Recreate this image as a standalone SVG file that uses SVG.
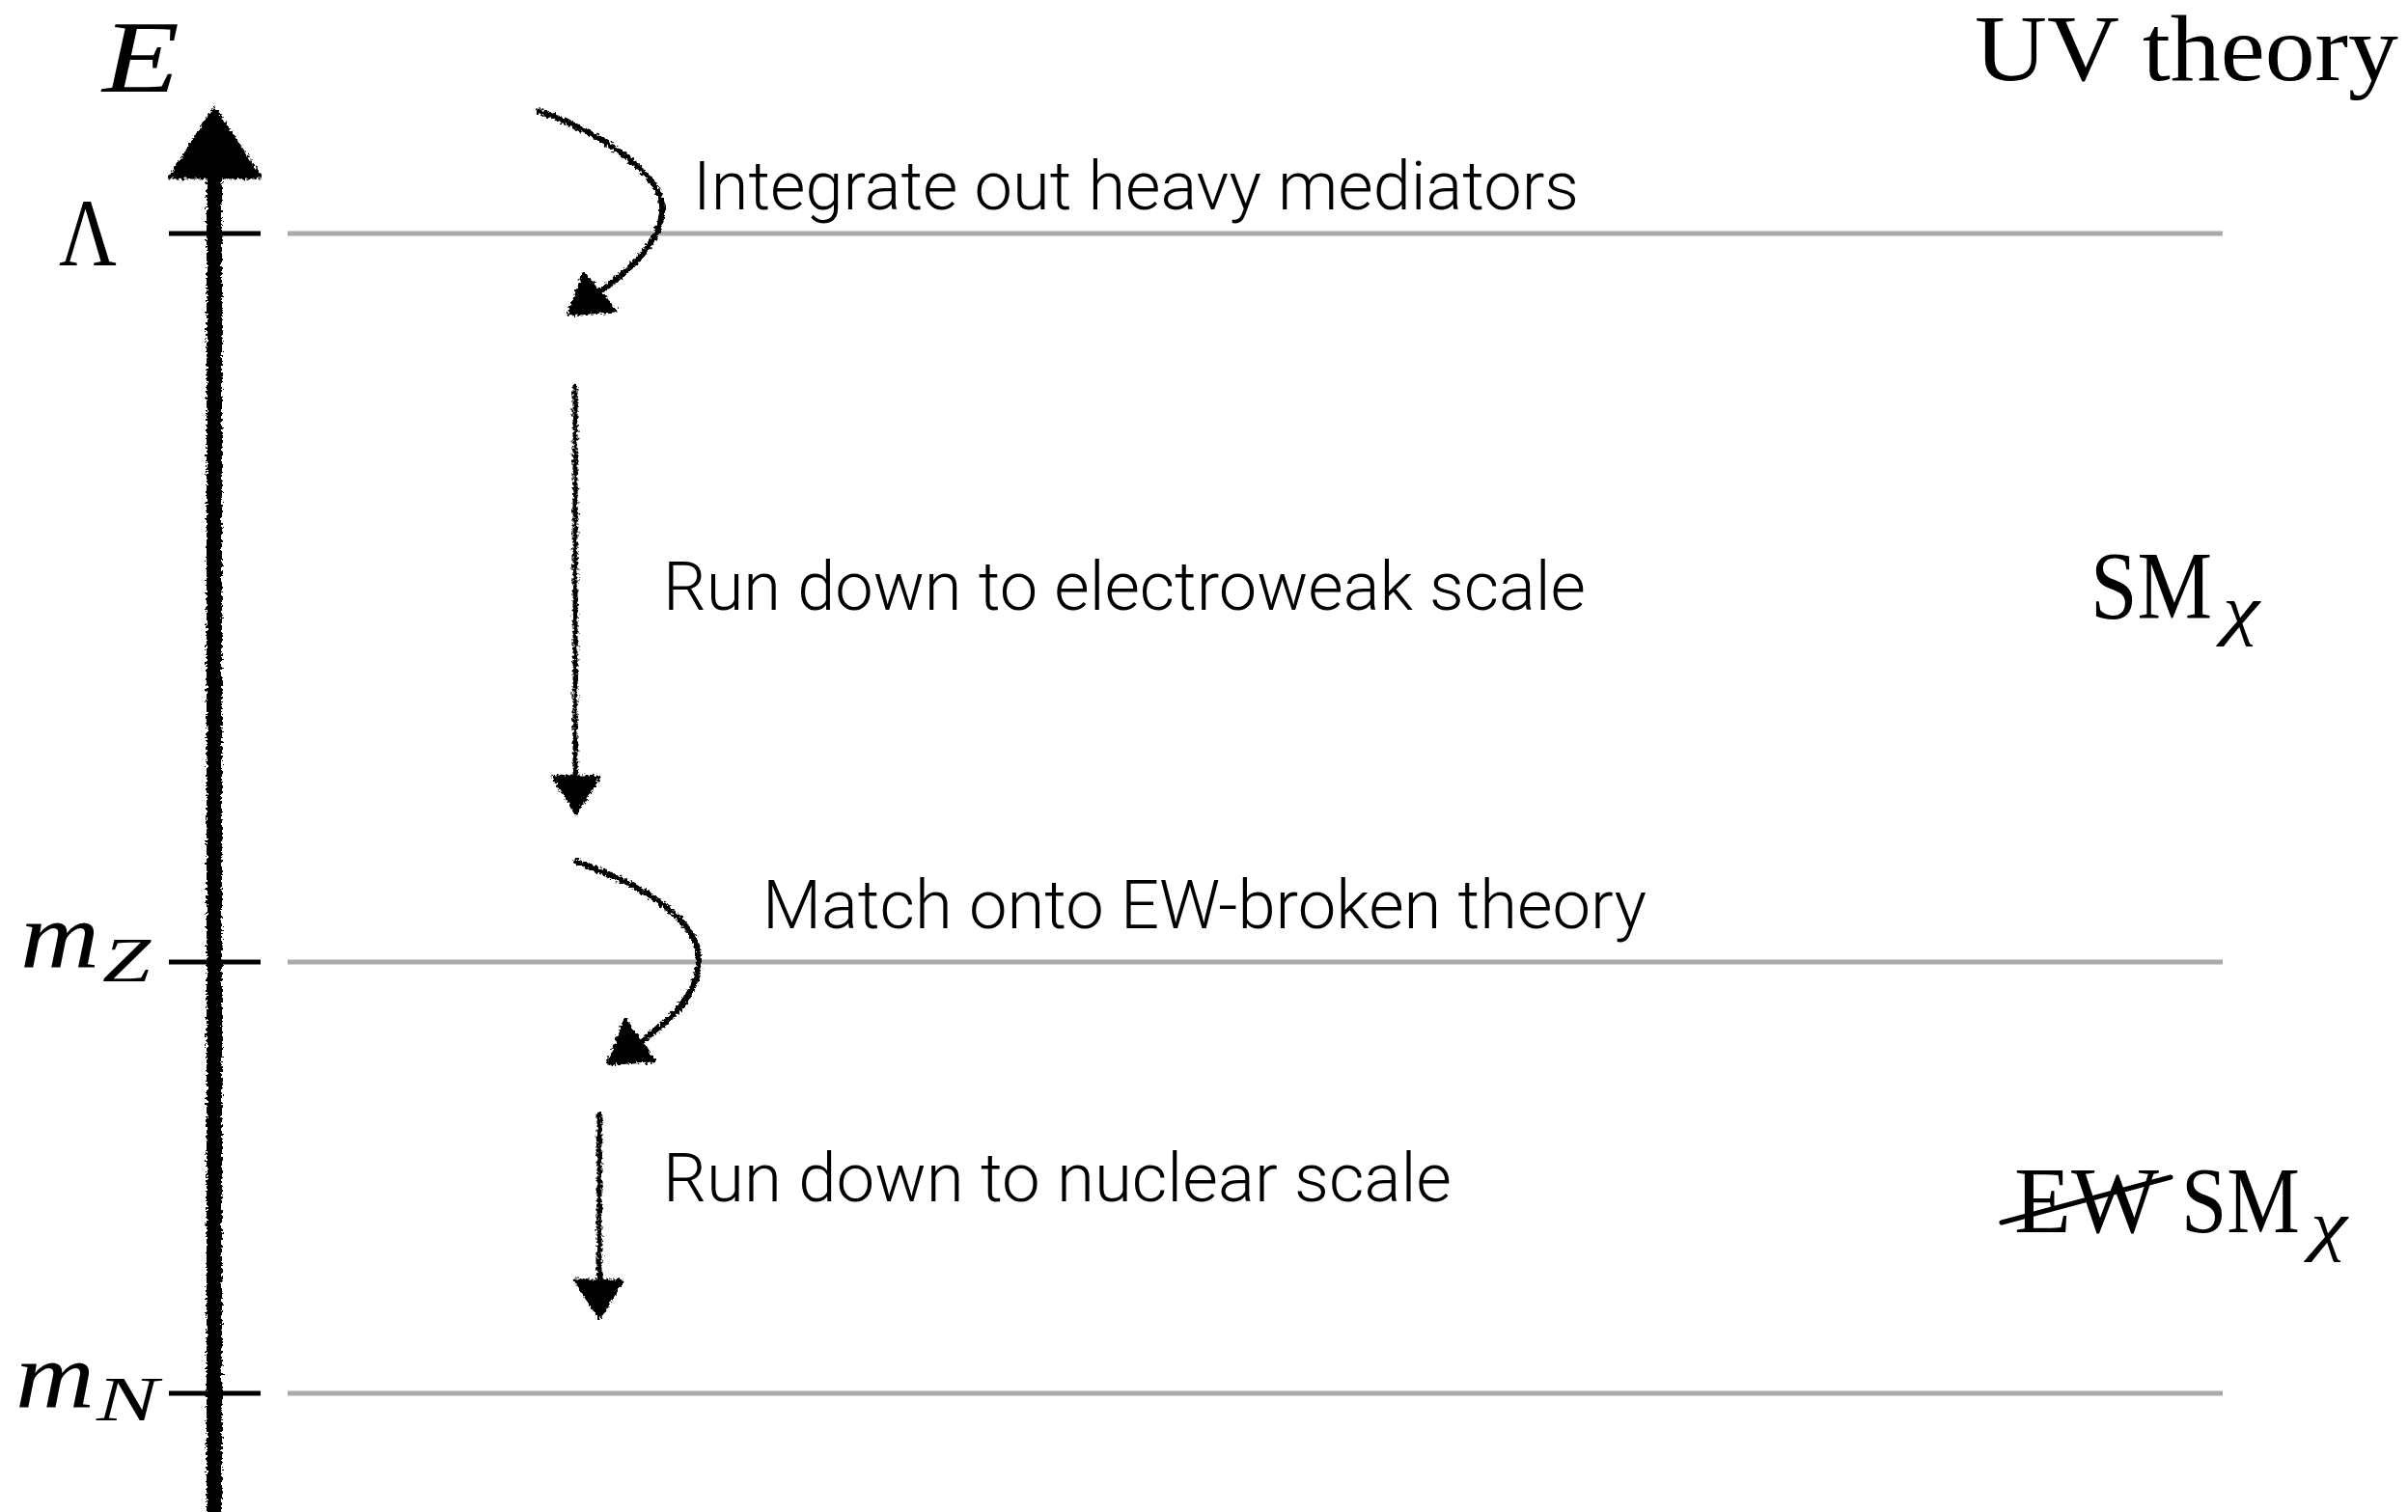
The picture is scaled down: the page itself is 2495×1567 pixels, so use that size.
<svg xmlns="http://www.w3.org/2000/svg" width="2495" height="1567" viewBox="0 0 2495 1567">
<style>
.serif{font-family:"Liberation Serif","DejaVu Serif",serif;fill:#000}
.it{font-style:italic}
.sans{font-family:"Roboto","Liberation Sans",sans-serif;font-weight:300;font-size:70px;fill:#000}
.grid{stroke:#a8aba8;stroke-width:5;fill:none}
.tick{stroke:#000;stroke-width:5;fill:none}
.sk{stroke:#000;fill:none;stroke-linecap:round}
.head{fill:#000;stroke:#000;stroke-width:3;stroke-linejoin:round}
</style>
<defs>
<filter id="rough" x="-10%" y="-10%" width="120%" height="120%">
<feTurbulence type="fractalNoise" baseFrequency="0.35" numOctaves="2" seed="3" result="n"/>
<feDisplacementMap in="SourceGraphic" in2="n" scale="7" xChannelSelector="R" yChannelSelector="G"/>
</filter>
</defs>
<rect width="2495" height="1567" fill="#fff"/>

<g id="level-lambda">
<line class="grid" x1="298" y1="242" x2="2303" y2="242"/>
<line class="tick" x1="175" y1="242" x2="270" y2="242"/>
<text class="serif" x="61" y="275" font-size="100" textLength="60" lengthAdjust="spacingAndGlyphs">Λ</text>
</g>
<g id="level-mz">
<line class="grid" x1="298" y1="997" x2="2303" y2="997"/>
<line class="tick" x1="175" y1="997" x2="270" y2="997"/>
<text class="serif it" x="21" y="1002" font-size="98" textLength="82" lengthAdjust="spacingAndGlyphs">m</text>
<text class="serif it" x="106" y="1017" font-size="66" textLength="50" lengthAdjust="spacingAndGlyphs">Z</text>
</g>
<g id="level-mn">
<line class="grid" x1="298" y1="1444" x2="2303" y2="1444"/>
<line class="tick" x1="175" y1="1444" x2="270" y2="1444"/>
<text class="serif it" x="16" y="1458" font-size="98" textLength="82" lengthAdjust="spacingAndGlyphs">m</text>
<text class="serif it" x="100" y="1472" font-size="66" textLength="64" lengthAdjust="spacingAndGlyphs">N</text>
</g>

<g id="axis-label">
<text class="serif it" x="106" y="95" font-size="106" textLength="80" lengthAdjust="spacingAndGlyphs">E</text>
</g>

<g id="uv-theory">
<text class="serif" x="2046" y="83" font-size="97" textLength="439" lengthAdjust="spacingAndGlyphs">UV theory</text>
</g>
<g id="sm-chi">
<text class="serif" x="2166" y="640" font-size="100" textLength="126" lengthAdjust="spacingAndGlyphs">SM</text>
<text class="serif it" x="2303" y="655" font-size="70" textLength="38" lengthAdjust="spacingAndGlyphs">χ</text>
</g>
<g id="ew-sm-chi">
<text class="serif" x="2087" y="1277" font-size="97" textLength="150" lengthAdjust="spacingAndGlyphs">EW</text>
<line x1="2074" y1="1267" x2="2249" y2="1220" stroke="#000" stroke-width="5" stroke-linecap="round"/>
<text class="serif" x="2260" y="1277" font-size="97" textLength="123" lengthAdjust="spacingAndGlyphs">SM</text>
<text class="serif it" x="2394" y="1293" font-size="70" textLength="38" lengthAdjust="spacingAndGlyphs">χ</text>
</g>

<g id="label-integrate"><text class="sans" x="718" y="217" textLength="918" lengthAdjust="spacingAndGlyphs">Integrate out heavy mediators</text></g>
<g id="label-run-ew"><text class="sans" x="687" y="632" textLength="956" lengthAdjust="spacingAndGlyphs">Run down to electroweak scale</text></g>
<g id="label-match"><text class="sans" x="790" y="962" textLength="916" lengthAdjust="spacingAndGlyphs">Match onto EW-broken theory</text></g>
<g id="label-run-nuc"><text class="sans" x="687" y="1245" textLength="817" lengthAdjust="spacingAndGlyphs">Run down to nuclear scale</text></g>

<g id="connectors" filter="url(#rough)">
<g id="energy-axis">
<line class="sk" x1="222" y1="1580" x2="222" y2="170" stroke-width="16"/>
<polygon class="head" points="222,112 176,184 270,184"/>
</g>
<g id="arrow-integrate">
<path class="sk" stroke-width="6" d="M558,115 C630,140 690,185 686,220 C682,260 640,290 600,318"/>
<polygon class="head" points="589,326 605,283 638,322"/>
</g>
<g id="arrow-run-ew">
<line class="sk" stroke-width="5" x1="596" y1="400" x2="596" y2="810"/>
<polygon class="head" points="573,805 621,805 597,843"/>
</g>
<g id="arrow-match">
<path class="sk" stroke-width="6" d="M597,893 C660,915 724,950 724,995 C724,1040 675,1075 635,1098"/>
<polygon class="head" points="630,1102 648,1057 678,1100"/>
</g>
<g id="arrow-run-nuc">
<line class="sk" stroke-width="5" x1="621" y1="1155" x2="621" y2="1332"/>
<polygon class="head" points="596,1327 645,1327 621,1366"/>
</g>
</g>
</svg>
